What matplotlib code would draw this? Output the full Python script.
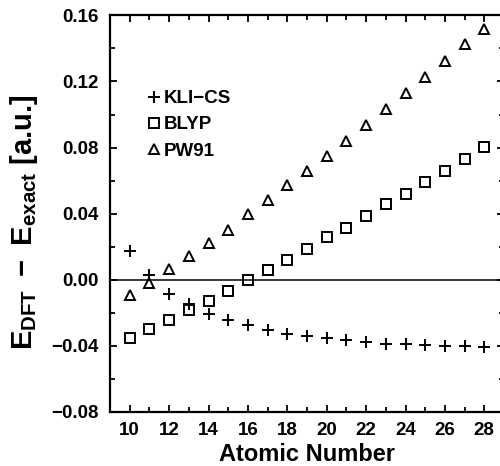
import numpy as np
import matplotlib
matplotlib.use('Agg')
import matplotlib.pyplot as plt
from matplotlib.ticker import MultipleLocator, FuncFormatter

plt.rcParams['font.family'] = ['Liberation Sans', 'DejaVu Sans']
plt.rcParams['font.weight'] = 'bold'
plt.rcParams['mathtext.fontset'] = 'custom'
plt.rcParams['mathtext.rm'] = 'Liberation Sans:bold'
plt.rcParams['mathtext.bf'] = 'Liberation Sans:bold'
plt.rcParams['mathtext.it'] = 'Liberation Sans:bold'

# atomic number Z = 10 .. 28
z = list(range(10, 29))
kli_cs = [0.0175, 0.0027, -0.0084, -0.0148, -0.0205, -0.0245, -0.0276, -0.0302,
          -0.0326, -0.0340, -0.0350, -0.0362, -0.0377, -0.0387, -0.0390, -0.0397,
          -0.0401, -0.0403, -0.0405]
blyp = [-0.0353, -0.0296, -0.0241, -0.0185, -0.0128, -0.0070, -0.0003, 0.0058,
        0.0120, 0.0185, 0.0256, 0.0316, 0.0385, 0.0456, 0.0522, 0.0591,
        0.0658, 0.0728, 0.0805]
pw91 = [-0.0094, -0.0020, 0.0068, 0.0145, 0.0225, 0.0304, 0.0395, 0.0480,
        0.0571, 0.0659, 0.0748, 0.0841, 0.0936, 0.1033, 0.1128, 0.1225,
        0.1324, 0.1425, 0.1520]

fig = plt.figure(figsize=(5.0, 4.66), dpi=100)
ax = fig.add_axes([0.22, 0.116, 0.788, 0.851])

ax.axhline(0, color='k', linewidth=1.1, zorder=1)
ax.plot(z, kli_cs, linestyle='none', marker='+', markersize=8, markeredgewidth=1.4,
        color='k', label='KLI\u2212CS')
ax.plot(z, blyp, linestyle='none', marker='s', markersize=6.5, markeredgewidth=1.4,
        markerfacecolor='none', markeredgecolor='k', label='BLYP')
ax.plot(z, pw91, linestyle='none', marker='^', markersize=7.8, markeredgewidth=1.4,
        markerfacecolor='none', markeredgecolor='k', label='PW91')

ax.set_xlim(9, 29)
ax.set_ylim(-0.08, 0.16)
ax.xaxis.set_major_locator(MultipleLocator(2))
ax.xaxis.set_minor_locator(MultipleLocator(1))
ax.yaxis.set_major_locator(MultipleLocator(0.04))
ax.yaxis.set_minor_locator(MultipleLocator(0.02))
ax.yaxis.set_major_formatter(FuncFormatter(
    lambda v, _: ('%.2f' % v).replace('-0.00', '0.00').replace('-', '\u2212')))

ax.tick_params(which='both', direction='in', top=True, right=True, width=1.3,
               labelsize=13.5)
ax.tick_params(which='major', length=5)
ax.tick_params(which='minor', length=3.5)
ax.tick_params(axis='y', which='major', pad=8)
ax.tick_params(axis='x', which='major', pad=7)
for s in ax.spines.values():
    s.set_linewidth(1.6)

ax.set_xlabel('Atomic Number', fontsize=17, fontweight='bold', labelpad=3)
ax.set_ylabel(r'$\mathrm{E_{DFT}\ -\ E_{exact}}$ [a.u.]', fontsize=21,
              fontweight='bold')
ax.yaxis.set_label_coords(-0.178, 0.478)

ax.legend(loc='upper left', bbox_to_anchor=(0.07, 0.835), frameon=False,
          fontsize=13.5, handlelength=0.7, handletextpad=0.2,
          labelspacing=0.48, borderpad=0)

fig.savefig('out.png', dpi=100)
